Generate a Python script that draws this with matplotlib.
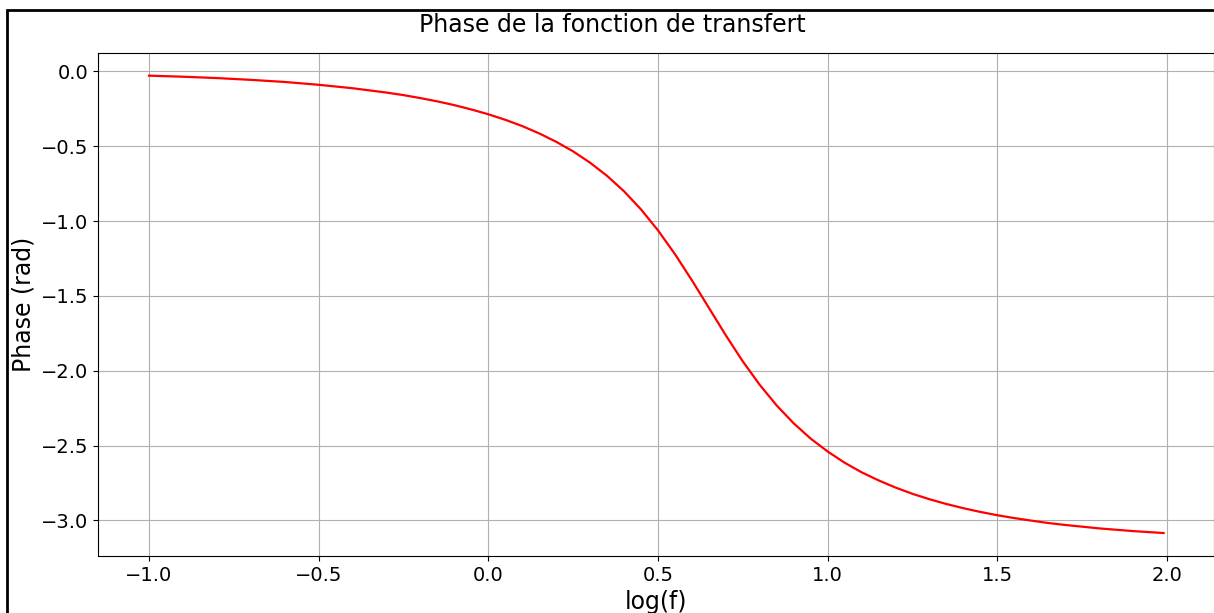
import matplotlib
matplotlib.use("Agg")
import matplotlib.pyplot as plt
from matplotlib.patches import Rectangle

# log10 of frequency and phase (rad) of the transfer function
log_f = [-1.0, -0.9, -0.8, -0.7, -0.6, -0.5, -0.4, -0.3, -0.25, -0.2,
         -0.15, -0.1, -0.05, 0.0, 0.05, 0.1, 0.15, 0.2, 0.25, 0.3,
         0.35, 0.4, 0.45, 0.5, 0.55, 0.6, 0.65, 0.7, 0.75, 0.8,
         0.85, 0.9, 0.95, 1.0, 1.05, 1.1, 1.15, 1.2, 1.25, 1.3,
         1.35, 1.4, 1.45, 1.5, 1.55, 1.6, 1.65, 1.7, 1.8, 1.9, 1.99]
phase = [-0.028, -0.035, -0.044, -0.056, -0.070, -0.089, -0.112, -0.141, -0.158, -0.178,
         -0.200, -0.225, -0.254, -0.286, -0.323, -0.365, -0.414, -0.470, -0.534, -0.610,
         -0.698, -0.801, -0.922, -1.062, -1.221, -1.396, -1.580, -1.764, -1.938, -2.095,
         -2.233, -2.352, -2.454, -2.540, -2.615, -2.679, -2.733, -2.781, -2.823, -2.859,
         -2.891, -2.919, -2.944, -2.966, -2.985, -3.002, -3.018, -3.031, -3.054, -3.072, -3.085]

W, H = 1214, 613
fig = plt.figure(figsize=(W / 100, H / 100), dpi=100)
fig.add_artist(Rectangle((7 / W, -0.2), 1.5, 1.2 - 10 / H,
                         transform=fig.transFigure, fill=False,
                         lw=2, ec="black"))

ax = fig.add_axes([98.3 / W, 1 - 555.9 / H, (1214.3 - 98.3) / W, (555.9 - 52.8) / H])
ax.plot(log_f, phase, color="red", lw=1.6)
ax.grid(True)
ax.tick_params(labelsize=14)
ax.set_xlabel("log(f)", fontsize=17)
ax.set_ylabel("Phase (rad)", fontsize=17)
fig.suptitle("Phase de la fonction de transfert", fontsize=17,
             x=612 / W, y=1 - 25.5 / H, va="center")

fig.savefig("out.png", dpi=100)
